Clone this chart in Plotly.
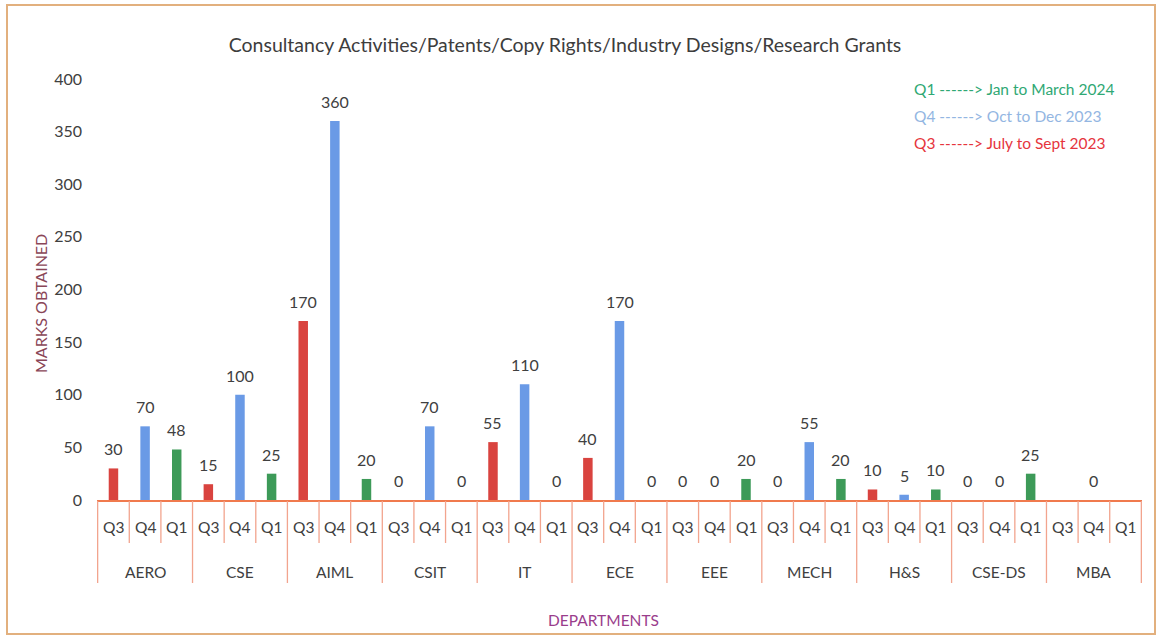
import plotly.graph_objects as go

# Marks obtained per department and quarter
departments = ["AERO", "CSE", "AIML", "CSIT", "IT", "ECE", "EEE", "MECH", "H&S", "CSE-DS", "MBA"]
quarters = ["Q3", "Q4", "Q1"]
q3_marks = [30, 15, 170, 0, 55, 40, 0, 0, 10, 0, None]
q4_marks = [70, 100, 360, 70, 110, 170, 0, 55, 5, 0, 0]
q1_marks = [48, 25, 20, 0, 0, 0, 20, 20, 10, 25, None]

quarter_colors = {"Q3": "#d9433f", "Q4": "#6a9ae6", "Q1": "#3d9a58"}
legend_lines = [
    ("Q1 ------> Jan to March 2024", "#2fa874"),
    ("Q4 ------> Oct to Dec 2023", "#93b6e2"),
    ("Q3 ------> July to Sept 2023", "#e6353d"),
]

series = {"Q3": q3_marks, "Q4": q4_marks, "Q1": q1_marks}
dept_level, quarter_level, values, colors = [], [], [], []
for i, dept in enumerate(departments):
    for q in quarters:
        dept_level.append(dept)
        quarter_level.append(q)
        values.append(series[q][i])
        colors.append(quarter_colors[q])

FONT = "Lato, 'Open Sans', sans-serif"
TEXT = "#404040"
GRID_LINE = "#f2a48e"

# plot area in pixels (used to place paper-referenced decorations)
L, R, T, B, W, H = 97, 16, 79, 137, 1158, 637
PW, PH = W - L - R, H - T - B


def px_x(p):
    return (p - L) / PW


def px_y(p):
    return (H - B - p) / PH


fig = go.Figure(
    go.Bar(
        x=[dept_level, quarter_level],
        y=values,
        marker=dict(color=colors, line=dict(width=0)),
        width=0.3,
        hoverinfo="x+y",
    )
)

annotations, shapes = [], []

# value labels above each bar
for idx, v in enumerate(values):
    if v is None:
        continue
    annotations.append(dict(
        x=idx, y=v, xref="x", yref="y", text=str(v), showarrow=False,
        yanchor="bottom", yshift=8,
        font=dict(family=FONT, size=16, color=TEXT),
    ))

# two-level category labels with their separators
n = len(values)
for idx in range(n):
    annotations.append(dict(
        x=idx, y=px_y(527), xref="x", yref="paper", text=quarter_level[idx],
        showarrow=False, yanchor="middle",
        font=dict(family=FONT, size=15.5, color=TEXT),
    ))
for i, dept in enumerate(departments):
    annotations.append(dict(
        x=3 * i + 1, y=px_y(572), xref="x", yref="paper", text=dept,
        showarrow=False, yanchor="middle",
        font=dict(family=FONT, size=15.5, color=TEXT),
    ))
for b in range(n + 1):
    bottom = 583 if b % 3 == 0 else 543
    shapes.append(dict(
        type="line", xref="x", yref="paper", x0=b - 0.5, x1=b - 0.5,
        y0=px_y(501), y1=px_y(bottom), line=dict(color=GRID_LINE, width=1.3),
    ))

# quarter key in the top-right corner
for k, (txt, col) in enumerate(legend_lines):
    annotations.append(dict(
        x=px_x(912), y=px_y(89 + 27 * k), xref="paper", yref="paper",
        xanchor="left", yanchor="middle", text=txt, showarrow=False,
        font=dict(family=FONT, size=15.5, color=col),
    ))

# axis titles
annotations.append(dict(
    x=px_x(40), y=px_y(304), xref="paper", yref="paper", text="MARKS OBTAINED",
    textangle=-90, showarrow=False, xanchor="center", yanchor="middle",
    font=dict(family=FONT, size=16, color="#8a4657"),
))
annotations.append(dict(
    x=px_x(603), y=px_y(620), xref="paper", yref="paper", text="DEPARTMENTS",
    showarrow=False, xanchor="center", yanchor="middle",
    font=dict(family=FONT, size=15.5, color="#9a3d8c"),
))

# outer frame
shapes.append(dict(
    type="rect", xref="paper", yref="paper",
    x0=px_x(7), x1=px_x(1155), y0=px_y(634), y1=px_y(5),
    line=dict(color="#e2b07e", width=2), fillcolor="rgba(0,0,0,0)", layer="below",
))

fig.update_layout(
    width=W, height=H,
    margin=dict(l=L, r=R, t=T, b=B),
    paper_bgcolor="white", plot_bgcolor="white",
    showlegend=False,
    font=dict(family=FONT, size=14, color=TEXT),
    title=dict(
        text="Consultancy Activities/Patents/Copy Rights/Industry Designs/Research Grants",
        x=565 / W, xanchor="center", y=1 - 45 / H, yanchor="middle",
        font=dict(family=FONT, size=19.5, color="#3d3d3d"),
    ),
    annotations=annotations,
    shapes=shapes,
)

fig.update_xaxes(
    type="multicategory",
    showline=True, linecolor="#f07a4e", linewidth=2,
    ticks="", showticklabels=False, showdividers=False, showgrid=False,
)
fig.update_yaxes(
    range=[0, 400], dtick=50, showgrid=False, zeroline=False, showline=False,
    ticks="", ticklabelstandoff=14,
    tickfont=dict(family=FONT, size=16, color=TEXT),
)

fig.write_html("out.html")
